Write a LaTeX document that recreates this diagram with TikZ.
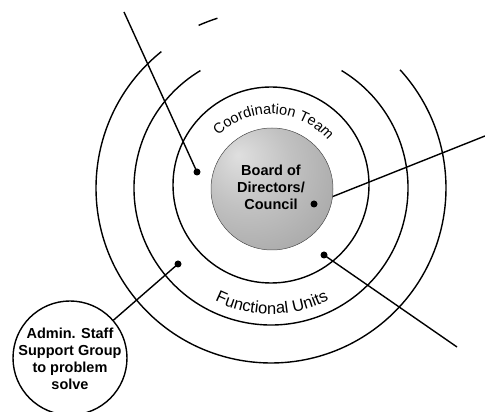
\documentclass[tikz,border=0pt]{standalone}
\usepackage{fontspec}
\setmainfont{Liberation Sans}
\usetikzlibrary{decorations.text,backgrounds}
\pgfdeclareradialshading{sphereshade}{\pgfpoint{-14bp}{14bp}}{color(0bp)=(gray!25); color(18bp)=(gray!48); color(40bp)=(gray!70); color(75bp)=(gray!85)}
\begin{document}
\begin{tikzpicture}[x=1pt,y=1pt,
  ring/.style={line width=1.4pt},
  conn/.style={line width=1.4pt},
  dotmark/.style={circle, fill=black, inner sep=0pt, minimum size=7pt},
  lbl/.style={font=\bfseries\fontsize{14.5}{17}\selectfont, align=center},
]
\useasboundingbox (0,0) rectangle (485,412);
\coordinate (O) at (271,224);
% central shaded circle
\node[circle, inner sep=0pt, minimum size=122pt, shading=sphereshade, draw=gray!60!black, line width=0.5pt] (board) at (272,223) {};
\node[lbl] (boardtxt) at (271,225) {Board of\\Directors/\\Council};
% rings
\draw[ring] (271,227) circle (98);
\draw[ring] ([shift={(121:137)}]O) arc[start angle=121, end angle=419, radius=137];
\draw[ring] ([shift={(128.8:175)}]O) arc[start angle=128.8, end angle=402.5, radius=175];
\draw[ring] ([shift={(107.5:178)}]O) arc[start angle=107.5, end angle=114, radius=178];
% curved labels
\path[decorate, decoration={text along path, text align=center,
  text={|\fontsize{14.5}{14.5}\selectfont|Coordination Team}}]
  ([shift={(150:74)}]O) arc[start angle=150, end angle=25, radius=74];
\path[decorate, decoration={text along path, text align=center,
  text={|\fontsize{16.5}{16.5}\selectfont|Functional Units}}]
  ([shift={(232:126)}]O) arc[start angle=232, end angle=309, radius=126];
% admin circle
\node[circle, draw, line width=1.4pt, minimum size=114pt, inner sep=0pt] (admin) at (70,54) {};
\node[lbl] (admintxt) at (70,53) {Admin. Staff\\Support Group\\to problem\\solve};
% dots
\node[dotmark] (d1) at (197,240) {};
\node[dotmark] (d2) at (314,208) {};
\node[dotmark] (d3) at (324,157) {};
\node[dotmark] (d4) at (178,148) {};
\coordinate (t1) at (124,400);
\coordinate (t2) at (485,276);
\coordinate (t3) at (457,65);
\begin{pgfonlayer}{background}
\draw[conn] (t1) -- (d1.center);
\draw[conn] (d2.center) -- (t2);
\draw[conn] (d3.center) -- (t3);
\draw[conn] (d4.center) -- (admin);
\end{pgfonlayer}
\end{tikzpicture}
\end{document}
